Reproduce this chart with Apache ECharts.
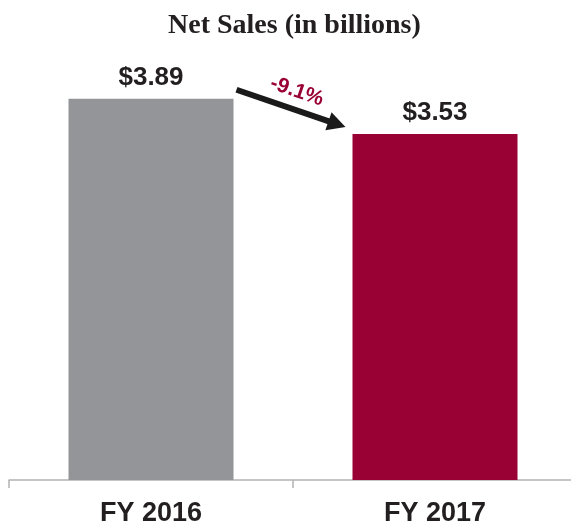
<!DOCTYPE html>
<html>
<head>
<meta charset="utf-8">
<script src="https://cdn.jsdelivr.net/npm/echarts@6/dist/echarts.min.js"></script>
<style>
  html, body { margin: 0; padding: 0; background: #ffffff; overflow: hidden; }
  /* a little wider than the window so the axis runs off the right edge */
  #chart { width: 590px; height: 527px; }
</style>
</head>
<body>
<div id="chart"></div>
<script>
// Fiscal years and net sales in billions of dollars
const categories = ['FY 2016', 'FY 2017'];
const netSales = [3.89, 3.53];
const barColors = ['#939598', '#990033'];
// Year-over-year change as reported
const changeLabel = '-9.1%';

const textDark = '#231f20';
const accent = '#990033';
const barWidth = 165;

const chart = echarts.init(document.getElementById('chart'), null, { renderer: 'canvas' });

chart.setOption({
  animation: false,
  backgroundColor: '#ffffff',
  title: {
    text: 'Net Sales (in billions)',
    left: 163,
    top: 7,
    textStyle: {
      fontFamily: '"Liberation Serif", "Times New Roman", serif',
      fontWeight: 'bold',
      fontSize: 28,
      color: textDark
    }
  },
  grid: { left: 9, width: 568, top: 88, bottom: 47 },
  xAxis: {
    type: 'category',
    data: categories,
    axisLine: { show: true, lineStyle: { color: '#b3b3b3', width: 1.5 } },
    axisTick: { show: true, length: 8, lineStyle: { color: '#b3b3b3', width: 1.5 } },
    axisLabel: {
      margin: 20,
      fontFamily: '"Liberation Sans", Arial, sans-serif',
      fontWeight: 'bold',
      fontSize: 27,
      color: textDark
    }
  },
  yAxis: {
    type: 'value',
    min: 0,
    max: 4,
    show: false,
    splitLine: { show: false }
  },
  series: [{
    type: 'bar',
    barWidth: barWidth,
    data: netSales.map((v, i) => ({ value: v, itemStyle: { color: barColors[i] } })),
    label: {
      show: true,
      position: 'top',
      distance: 8,
      formatter: p => '$' + p.value.toFixed(2),
      fontFamily: '"Liberation Sans", Arial, sans-serif',
      fontWeight: 'bold',
      fontSize: 26,
      color: textDark
    }
  }]
});

// Trend arrow between the two bars, placed from the bars' own positions
const top1 = chart.convertToPixel({ seriesIndex: 0 }, [0, netSales[0]]);
const top2 = chart.convertToPixel({ seriesIndex: 0 }, [1, netSales[1]]);
const start = [top1[0] + barWidth / 2 + 3, top1[1] - 9];
const tip = [top2[0] - barWidth / 2 - 7, top2[1] - 7];
const dx = tip[0] - start[0], dy = tip[1] - start[1];
const len = Math.sqrt(dx * dx + dy * dy);
const ux = dx / len, uy = dy / len;
const px = -uy, py = ux;
const headLen = 18, headHalf = 9.5;
const base = [tip[0] - ux * headLen, tip[1] - uy * headLen];
const mid = [(start[0] + tip[0]) / 2, (start[1] + tip[1]) / 2];
const labelPos = [mid[0] - px * 18, mid[1] - py * 18];

chart.setOption({
  graphic: [
    {
      type: 'line',
      shape: { x1: start[0], y1: start[1], x2: base[0] + ux * 2, y2: base[1] + uy * 2 },
      style: { stroke: '#1a1a1a', lineWidth: 6 }
    },
    {
      type: 'polygon',
      shape: {
        points: [
          tip,
          [base[0] + px * headHalf, base[1] + py * headHalf],
          [base[0] - px * headHalf, base[1] - py * headHalf]
        ]
      },
      style: { fill: '#1a1a1a' }
    },
    {
      type: 'text',
      x: labelPos[0],
      y: labelPos[1],
      rotation: -Math.atan2(dy, dx),
      style: {
        text: changeLabel,
        align: 'center',
        verticalAlign: 'middle',
        fontFamily: '"Liberation Sans", Arial, sans-serif',
        fontWeight: 'bold',
        fontSize: 21,
        fill: accent
      }
    }
  ]
});
</script>
</body>
</html>
